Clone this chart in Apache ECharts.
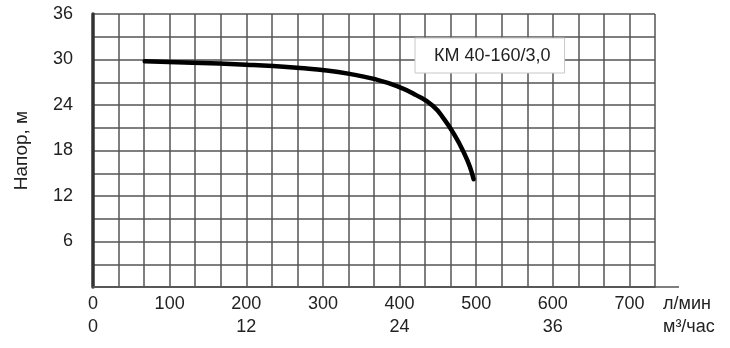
<!DOCTYPE html>
<html>
<head>
<meta charset="utf-8">
<script src="https://cdn.jsdelivr.net/npm/echarts@6/dist/echarts.min.js"></script>
<style>
html,body{margin:0;padding:0;background:#fff;}
#chart{width:730px;height:348px;}
</style>
</head>
<body>
<div id="chart"></div>
<script>
// Flow in m³/h and head in m
const flowM3h = [4.05, 7.8, 12.0, 14.1, 16.2, 18.3, 20.1, 21.9, 23.8, 25.3, 26.6, 27.5, 28.3, 29.0, 29.5, 29.8];
const headM   = [29.76, 29.58, 29.32, 29.15, 28.88, 28.55, 28.1, 27.47, 26.5, 25.3, 23.9, 22.1, 20.05, 17.85, 15.9, 14.2];
const seriesName = 'КМ 40-160/3,0';
const yTitle = 'Напор, м';
const unitLabel = 'л/мин\nм³/час';
const lminTicks = [0, 100, 200, 300, 400, 500, 600, 700];
const m3hTicks = [0, 12, 24, 36];

const chart = echarts.init(document.getElementById('chart'));
const font = 'Liberation Sans, Arial, sans-serif';
const gridColor = '#555';

chart.setOption({
  animation: false,
  textStyle: { fontFamily: font },
  grid: { left: 93, right: 75, top: 14, bottom: 61 },
  legend: {
    show: true,
    left: 415, top: 38,
    icon: 'none', itemWidth: 0, itemGap: 0,
    backgroundColor: '#fff', borderColor: '#c8c8c8', borderWidth: 1,
    padding: [9, 14, 8, 14],
    textStyle: { fontSize: 18, color: '#222', fontFamily: font },
    data: [seriesName]
  },
  xAxis: {
    type: 'value', min: 0, max: 44, interval: 2,
    axisLine: { show: true, lineStyle: { color: gridColor, width: 1.5 } },
    axisTick: { show: false },
    splitLine: { show: true, lineStyle: { color: gridColor, width: 1.5 } },
    axisLabel: {
      margin: 6, fontSize: 18, color: '#222', lineHeight: 23,
      formatter: function (v) {
        const l = Math.round(v * 100 / 6);
        const top = lminTicks.indexOf(l) >= 0 && v % 6 === 0 ? String(l) : '';
        const bot = m3hTicks.indexOf(v) >= 0 ? String(v) : '';
        if (!top && !bot) return '';
        return top + '\n' + bot;
      }
    },
    name: unitLabel, nameLocation: 'end', nameGap: 8,
    nameTextStyle: { fontSize: 18, color: '#222', align: 'left', verticalAlign: 'top', lineHeight: 23, padding: [6, 0, 0, 0] }
  },
  yAxis: {
    type: 'value', min: 0, max: 36, interval: 3,
    axisLine: { show: true, lineStyle: { color: '#333', width: 3.5 } },
    axisTick: { show: false },
    splitLine: { show: true, lineStyle: { color: gridColor, width: 1.5 } },
    axisLabel: {
      margin: 20, fontSize: 18, color: '#222',
      formatter: function (v) { return (v > 0 && v % 6 === 0) ? String(v) : ''; }
    },
    name: yTitle, nameLocation: 'middle', nameGap: 62, nameRotate: 90,
    nameTextStyle: { fontSize: 19, color: '#222' }
  },
  series: [{
    name: seriesName,
    type: 'line',
    data: flowM3h.map((x, i) => [x, headM[i]]),
    smooth: 0.5,
    symbol: 'none',
    lineStyle: { color: '#000', width: 4.5, cap: 'round', join: 'round' },
    itemStyle: { color: '#000' }
  }]
});

// extend bottom axis line beyond the grid, as in the reference
const p0 = chart.convertToPixel({ gridIndex: 0 }, [0, 0]);
const p1 = chart.convertToPixel({ gridIndex: 0 }, [44, 0]);
chart.setOption({
  graphic: [{
    type: 'line', silent: true, z: 5,
    shape: { x1: p0[0], y1: p0[1], x2: p1[0] + 24, y2: p1[1] },
    style: { stroke: gridColor, lineWidth: 1.5 }
  }]
});
</script>
</body>
</html>
